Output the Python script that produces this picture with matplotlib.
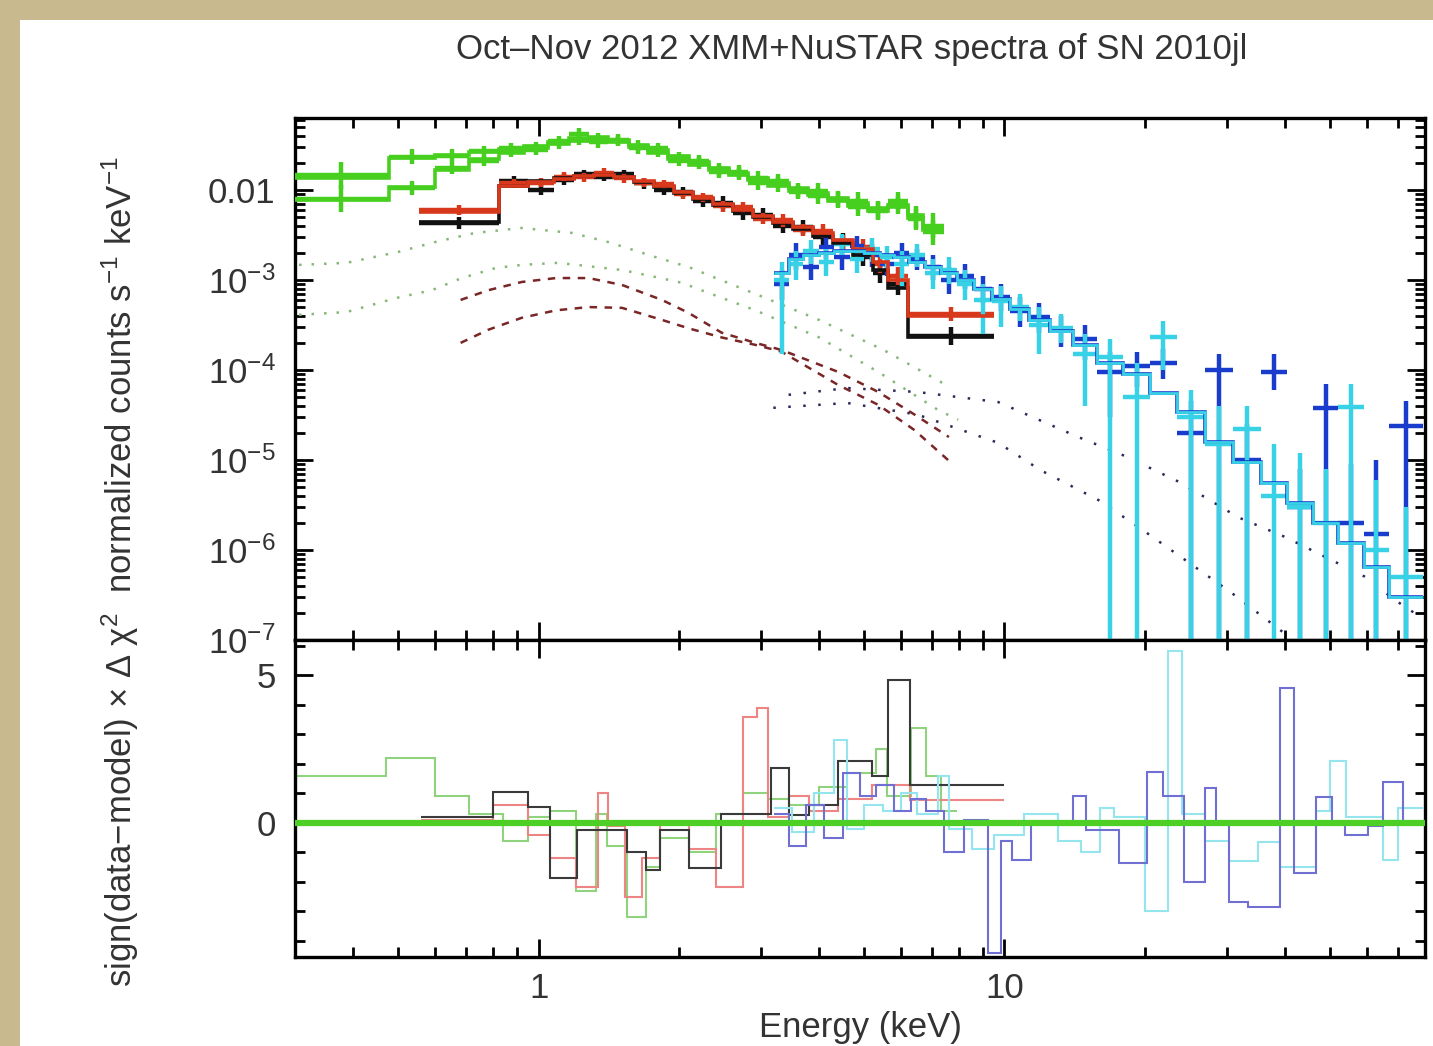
import numpy as np
import matplotlib
matplotlib.use("Agg")
import matplotlib.pyplot as plt
from matplotlib.patches import Rectangle
from matplotlib.ticker import FixedLocator, FixedFormatter, LogLocator, MultipleLocator, NullFormatter

plt.rcParams['font.family'] = ['Liberation Sans', 'DejaVu Sans']
plt.rcParams['mathtext.fontset'] = 'custom'
plt.rcParams['mathtext.rm'] = 'Liberation Sans'
plt.rcParams['mathtext.it'] = 'Liberation Sans:italic'
plt.rcParams['mathtext.default'] = 'regular'

# ---- XMM MOS (green), two spectra
mos_edges = [0.298, 0.477, 0.60, 0.708, 0.821, 0.93, 1.05, 1.16, 1.28, 1.41, 1.56, 1.72, 1.90,
             2.10, 2.32, 2.56, 2.82, 3.11, 3.44, 3.79, 4.19, 4.62, 5.10, 5.63, 6.22, 6.70, 7.40]
mos1_model = [0.0136, 0.0227, 0.0245, 0.0264, 0.0285, 0.0308, 0.0341, 0.0378, 0.0388, 0.0359,
              0.0316, 0.0278, 0.0239, 0.0205, 0.0176, 0.0155, 0.0136, 0.0120, 0.0105, 0.0093,
              0.0081, 0.0072, 0.0063, 0.0068, 0.0053, 0.0038]
mos1_data = [0.0145, 0.0235, 0.024, 0.027, 0.029, 0.030, 0.035, 0.042, 0.037, 0.036,
             0.031, 0.029, 0.023, 0.021, 0.017, 0.016, 0.0135, 0.0125, 0.0100, 0.0098,
             0.0080, 0.0075, 0.0060, 0.0075, 0.0050, 0.0040]
mos1_err = [0.15, 0.08, 0.07, 0.06, 0.06, 0.06, 0.06, 0.06, 0.06, 0.06, 0.06, 0.06, 0.06,
            0.07, 0.07, 0.07, 0.08, 0.08, 0.08, 0.09, 0.09, 0.10, 0.10, 0.10, 0.12, 0.14]
mos2_model = [0.0077, 0.0108, 0.0167, 0.022, 0.026, 0.029, 0.032, 0.035, 0.036, 0.034,
              0.030, 0.026, 0.022, 0.019, 0.0165, 0.0145, 0.0128, 0.0112, 0.0098, 0.0087,
              0.0076, 0.0067, 0.0059, 0.0064, 0.0049, 0.0036]
mos2_data = [0.0080, 0.0105, 0.0175, 0.021, 0.027, 0.028, 0.033, 0.036, 0.034, 0.035,
             0.029, 0.027, 0.021, 0.020, 0.016, 0.015, 0.012, 0.0115, 0.0095, 0.0085,
             0.0078, 0.0065, 0.0058, 0.0068, 0.0047, 0.0034]
mos2_err = mos1_err

# ---- XMM pn (red) and second pn spectrum (black)
pn_edges = [0.553, 0.821, 0.951, 1.077, 1.189, 1.312, 1.448, 1.599, 1.765, 1.948, 2.15, 2.37,
            2.62, 2.89, 3.19, 3.52, 3.88, 4.29, 4.73, 5.23, 5.61, 6.22, 9.48]
red_model = [0.0057, 0.0111, 0.0123, 0.0133, 0.0143, 0.0147, 0.0139, 0.0126, 0.0111, 0.0095,
             0.0081, 0.0070, 0.0060, 0.0051, 0.0044, 0.0039, 0.0033, 0.0028, 0.0022, 0.0016,
             0.0010, 0.00040]
red_data = [0.0060, 0.0118, 0.0120, 0.0140, 0.0138, 0.0155, 0.0135, 0.0120, 0.0115, 0.0090,
            0.0083, 0.0066, 0.0064, 0.0048, 0.0046, 0.0036, 0.0035, 0.0026, 0.0023, 0.0015,
            0.0011, 0.00042]
red_err = [0.06, 0.05, 0.05, 0.05, 0.05, 0.05, 0.05, 0.05, 0.05, 0.05, 0.05, 0.06, 0.06, 0.06,
           0.07, 0.07, 0.08, 0.08, 0.09, 0.10, 0.10, 0.08]
black_model = [0.0044, 0.0110, 0.0125, 0.0135, 0.0142, 0.0146, 0.0140, 0.0124, 0.0108, 0.0092,
               0.0079, 0.0068, 0.0058, 0.0050, 0.0043, 0.0037, 0.0031, 0.0026, 0.0019, 0.0013,
               0.00082, 0.00023]
black_data = [0.0043, 0.0125, 0.0100, 0.0130, 0.0150, 0.0140, 0.0150, 0.0118, 0.0100, 0.0095,
              0.0075, 0.0072, 0.0055, 0.0053, 0.0040, 0.0039, 0.0030, 0.0027, 0.0018, 0.0012,
              0.00090, 0.00024]
black_err = [0.07, 0.06, 0.06, 0.06, 0.05, 0.05, 0.05, 0.06, 0.06, 0.06, 0.06, 0.07, 0.07, 0.07,
             0.08, 0.08, 0.09, 0.09, 0.10, 0.11, 0.12, 0.10]

# ---- NuSTAR FPMA (blue) / FPMB (cyan)
nu_edges = [3.2, 3.45, 3.7, 4.0, 4.3, 4.65, 5.0, 5.4, 5.8, 6.25, 6.75, 7.3, 7.9, 8.6, 9.4, 10.3,
            11.3, 12.5, 14.0, 15.8, 18.0, 20.5, 23.5, 27.0, 31.0, 35.5, 40.5, 46.0, 52.0, 59.0,
            67.0, 79.0]
nu_model = [1.2e-3, 1.7e-3, 1.9e-3, 2.0e-3, 2.1e-3, 2.1e-3, 2.0e-3, 1.9e-3, 1.8e-3, 1.6e-3,
            1.4e-3, 1.2e-3, 1.0e-3, 8.0e-4, 6.2e-4, 4.8e-4, 3.6e-4, 2.7e-4, 1.9e-4, 1.2e-4,
            9.0e-5, 5.5e-5, 3.4e-5, 1.6e-5, 9.5e-6, 5.5e-6, 3.3e-6, 2.0e-6, 1.2e-6, 6.5e-7, 3.0e-7]
blue_data = [9.0e-4, 1.9e-3, 1.4e-3, 2.3e-3, 1.8e-3, 2.4e-3, 1.9e-3, 1.5e-3, 2.0e-3, 1.7e-3,
             1.4e-3, 1.0e-3, 1.1e-3, 8.0e-4, 6.5e-4, 4.5e-4, 3.9e-4, 2.8e-4, 2.2e-4, 9.5e-5,
             1.1e-4, 1.2e-4, 2.0e-5, 1.0e-4, 1.0e-5, 9.5e-5, 3.0e-6, 3.8e-5, 2.0e-6, 1.5e-6, 2.4e-5]
blue_lo = [6.0e-4, 1.3e-3, 1.0e-3, 1.7e-3, 1.3e-3, 1.8e-3, 1.4e-3, 1.1e-3, 1.5e-3, 1.3e-3,
           1.0e-3, 7.0e-4, 8.0e-4, 5.5e-4, 4.5e-4, 3.0e-4, 2.6e-4, 1.8e-4, 1.3e-4, 3.0e-5,
           6.5e-5, 8.0e-5, 1e-8, 1e-8, 1e-8, 6.0e-5, 1e-8, 1e-8, 1e-8, 1e-8, 1e-8]
blue_hi = [1.3e-3, 2.6e-3, 2.0e-3, 3.0e-3, 2.4e-3, 3.1e-3, 2.5e-3, 2.0e-3, 2.6e-3, 2.2e-3,
           1.9e-3, 1.4e-3, 1.5e-3, 1.1e-3, 9.0e-4, 6.5e-4, 5.5e-4, 4.0e-4, 3.2e-4, 1.6e-4,
           1.6e-4, 1.7e-4, 4.5e-5, 1.5e-4, 2.5e-5, 1.5e-4, 8.0e-6, 7.0e-5, 9.0e-6, 1.0e-5, 4.5e-5]
cyan_data = [1.0e-3, 1.5e-3, 2.1e-3, 1.6e-3, 2.5e-3, 1.7e-3, 2.2e-3, 1.8e-3, 1.5e-3, 1.9e-3,
             1.2e-3, 1.3e-3, 9.0e-4, 6.0e-4, 5.8e-4, 5.0e-4, 3.2e-4, 2.9e-4, 1.5e-4, 1.4e-4,
             5.0e-5, 2.3e-4, 3.0e-5, 1.5e-5, 2.2e-5, 4.0e-6, 3.0e-6, 2.0e-6, 3.9e-5, 1.0e-6, 5.0e-7]
cyan_lo = [1.5e-4, 1.0e-3, 1.5e-3, 1.1e-3, 1.9e-3, 1.2e-3, 1.6e-3, 1.3e-3, 8.0e-4, 1.4e-3,
           8.0e-4, 9.0e-4, 6.0e-4, 2.5e-4, 3.0e-4, 3.5e-4, 1.5e-4, 2.0e-4, 4.0e-5, 1e-8,
           1e-8, 1.0e-4, 1e-8, 1e-8, 1e-8, 1e-8, 1e-8, 1e-8, 1e-8, 1e-8, 1e-8]
cyan_hi = [1.6e-3, 2.1e-3, 2.8e-3, 2.2e-3, 3.2e-3, 2.3e-3, 2.9e-3, 2.4e-3, 2.1e-3, 2.5e-3,
           1.7e-3, 1.8e-3, 1.3e-3, 9.0e-4, 8.5e-4, 7.0e-4, 5.0e-4, 4.2e-4, 2.5e-4, 2.2e-4,
           1.2e-4, 3.5e-4, 6.0e-5, 4.0e-5, 4.0e-5, 1.5e-5, 1.2e-5, 8.0e-6, 7.0e-5, 6.0e-6, 3.0e-6]

# ---- model components
gd1_e = [0.306, 0.387, 0.50, 0.60, 0.73, 0.92, 1.18, 1.41, 1.78, 2.10, 2.96, 4.0, 5.5, 7.5]
gd1_f = [1.47e-3, 1.55e-3, 2.05e-3, 2.64e-3, 3.33e-3, 3.78e-3, 3.33e-3, 2.64e-3, 1.80e-3,
         1.39e-3, 6.8e-4, 3.6e-4, 1.67e-4, 6.8e-5]
gd2_e = [0.306, 0.387, 0.494, 0.59, 0.684, 0.81, 0.92, 1.10, 1.33, 1.51, 1.78, 2.03, 2.28,
         2.92, 4.0, 5.36, 7.2, 7.96]
gd2_f = [4.1e-4, 4.4e-4, 6.3e-4, 7.7e-4, 1.05e-3, 1.36e-3, 1.47e-3, 1.55e-3, 1.39e-3, 1.29e-3,
         1.08e-3, 9.3e-4, 7.4e-4, 4.6e-4, 2.3e-4, 9.5e-5, 3.6e-5, 2.8e-5]
rd1_e = [0.68, 0.78, 0.92, 1.09, 1.28, 1.51, 1.84, 2.10, 2.47, 2.92, 3.32, 4.40, 5.36, 6.41, 7.60]
rd1_f = [6.0e-4, 7.7e-4, 9.5e-4, 1.05e-3, 1.05e-3, 8.8e-4, 6.0e-4, 4.3e-4, 2.6e-4, 2.0e-4,
         1.67e-4, 9.5e-5, 5.7e-5, 3.2e-5, 1.8e-5]
rd2_e = [0.68, 0.78, 0.92, 1.09, 1.28, 1.51, 1.84, 2.10, 2.47, 2.92, 3.32, 4.40, 5.36, 6.41, 7.78]
rd2_f = [2.0e-4, 2.8e-4, 3.8e-4, 4.6e-4, 5.0e-4, 4.9e-4, 3.6e-4, 2.9e-4, 2.3e-4, 1.9e-4,
         1.6e-4, 6.8e-5, 4.1e-5, 2.15e-5, 8.8e-6]
bd1_e = [3.44, 4.6, 6.5, 9.7, 14.4, 18.2, 23.9, 31.8, 40.0, 46.5, 59.2, 68.8, 77.0]
bd1_f = [5.3e-5, 6.3e-5, 5.7e-5, 4.4e-5, 1.8e-5, 1.1e-5, 5.6e-6, 2.3e-6, 1.4e-6, 9.5e-7,
         5.1e-7, 2.8e-7, 1.9e-7]
bd2_e = [3.19, 4.6, 6.5, 9.7, 11.96, 15.9, 19.4, 23.9, 30.6, 40.7]
bd2_f = [3.8e-5, 4.3e-5, 3.2e-5, 1.55e-5, 7.7e-6, 3.6e-6, 1.8e-6, 8.4e-7, 3.4e-7, 1.1e-7]

# ---- residuals (sign(data-model) x delta chi^2)
res_green_e = [0.30, 0.47, 0.60, 0.71, 0.84, 0.95, 1.06, 1.20, 1.33, 1.40, 1.55, 1.70, 1.82,
               2.10, 2.40, 2.75, 3.10, 3.45, 4.00, 4.60, 5.30, 5.60, 6.30, 6.80, 7.30, 7.90]
res_green = [1.6, 2.2, 0.9, 0.3, -0.6, 0.2, 0.4, -2.3, 0.3, -0.8, -3.2, -1.5, -0.5, -1.0, 0.3,
             1.0, 0.8, 0.6, 1.2, 1.7, 2.5, 0.9, 3.2, 1.6, 0.4]
res_black_e = [0.56, 0.80, 0.95, 1.06, 1.21, 1.55, 1.70, 1.82, 2.10, 2.46, 3.15, 3.44, 3.80,
               4.40, 5.20, 5.61, 6.28, 10.0]
res_black = [0.2, 1.05, 0.55, -1.86, -0.24, -0.98, -1.59, -0.24, -1.52, 0.3, 1.86, 0.27, 0.6,
             2.1, 1.6, 4.86, 1.28]
res_red_e = [0.56, 0.80, 0.95, 1.06, 1.20, 1.34, 1.41, 1.53, 1.67, 1.82, 2.10, 2.40, 2.75,
             2.95, 3.10, 3.44, 3.80, 4.40, 5.20, 6.28, 10.0]
res_red = [0.1, 0.6, -0.4, -1.2, -2.16, 1.0, -0.1, -2.5, -1.2, 0.0, -0.9, -2.16, 3.6, 3.9,
           0.2, 0.9, 0.4, 0.8, 1.3, 0.78]
res_blue_e = [3.2, 3.45, 3.75, 4.1, 4.5, 4.9, 5.3, 5.8, 6.3, 6.8, 7.4, 8.2, 9.2, 9.85, 10.4,
              11.4, 14.0, 15.0, 17.6, 20.2, 21.9, 24.3, 27.0, 28.5, 30.4, 33.4, 39.1, 41.9,
              46.7, 50.4, 53.9, 60.4, 65.1, 71.8, 79.0]
res_blue = [0.3, -0.8, 0.6, -0.5, 1.7, 0.9, 1.3, 0.4, 0.8, 0.4, -1.0, 0.1, -4.4, -0.6, -1.25,
            0.0, 0.9, -0.24, -1.35, 1.72, 0.9, -2.0, 1.18, 0.0, -2.7, -2.87, 4.56, -1.69, 0.88,
            0.0, -0.4, -0.1, 1.38, 0.0]
res_cyan_e = [3.2, 3.5, 3.9, 4.3, 4.6, 5.0, 5.5, 6.0, 6.5, 7.2, 7.6, 8.5, 9.5, 11.0, 13.0,
              14.6, 16.0, 17.2, 20.0, 22.4, 24.1, 27.0, 30.4, 35.1, 39.1, 46.7, 50.1, 54.2,
              65.1, 70.1, 79.0]
res_cyan = [0.5, -0.3, 1.0, 2.8, -0.2, 0.6, 0.4, 1.0, 0.3, 1.6, -0.2, -0.9, -0.4, 0.3, -0.6,
            -1.0, 0.5, 0.2, -3.0, 5.84, 0.3, -0.6, -1.3, -0.64, -1.5, 0.4, 2.1, 0.2, -1.25, 0.5]

flux_ticks = [1e-2, 1e-3, 1e-4, 1e-5, 1e-6, 1e-7]
flux_labels = ['0.01', '$10^{-3}$', '$10^{-4}$', '$10^{-5}$', '$10^{-6}$', '$10^{-7}$']

GREEN, RED, BLACK, BLUE, CYAN = '#46cf1e', '#d8381c', '#111111', '#1a3ccc', '#38d2e6'


def crosses(ax, edges, vals, lo, hi, color, lw=3.2):
    e = np.asarray(edges)
    v = np.asarray(vals)
    x = np.sqrt(e[:-1] * e[1:])
    ax.errorbar(x, v, xerr=[x - e[:-1], e[1:] - x],
                yerr=[v - np.asarray(lo), np.asarray(hi) - v],
                fmt='none', ecolor=color, elinewidth=lw, capsize=0, zorder=3)


def dex_bounds(vals, err):
    v = np.asarray(vals)
    d = 10.0 ** np.asarray(err)
    return v / d, v * d


fig = plt.figure(figsize=(14.33, 10.46), dpi=100, facecolor='#c9b98f')
fig.add_artist(Rectangle((20 / 1433, 0), 1, 1 - 20 / 1046, transform=fig.transFigure,
                         facecolor='white', edgecolor='none', zorder=-5))

ax1 = fig.add_axes([0.2059, 0.3881, 0.7886, 0.4991])
ax2 = fig.add_axes([0.2059, 0.0851, 0.7886, 0.3030], sharex=ax1)

# components
ax1.plot(gd1_e, gd1_f, ls=(0, (1, 4)), color='#86b878', lw=1.8)
ax1.plot(gd2_e, gd2_f, ls=(0, (1, 4)), color='#86b878', lw=1.8)
ax1.plot(rd1_e, rd1_f, ls=(0, (3, 3)), color='#7a2626', lw=1.8)
ax1.plot(rd2_e, rd2_f, ls=(0, (3, 3)), color='#7a2626', lw=1.8)
ax1.plot(bd1_e, bd1_f, ls=(0, (1, 5)), color='#2a2a5a', lw=1.8)
ax1.plot(bd2_e, bd2_f, ls=(0, (1, 5)), color='#2a2a5a', lw=1.8)

# data + folded models
lo, hi = dex_bounds(mos2_data, mos2_err)
crosses(ax1, mos_edges, mos2_data, lo, hi, GREEN)
lo, hi = dex_bounds(mos1_data, mos1_err)
crosses(ax1, mos_edges, mos1_data, lo, hi, GREEN)
ax1.stairs(mos2_model, mos_edges, baseline=None, color=GREEN, lw=2.6, zorder=4)
ax1.stairs(mos1_model, mos_edges, baseline=None, color=GREEN, lw=2.6, zorder=4)

lo, hi = dex_bounds(black_data, black_err)
crosses(ax1, pn_edges, black_data, lo, hi, BLACK)
lo, hi = dex_bounds(red_data, red_err)
crosses(ax1, pn_edges, red_data, lo, hi, RED)
ax1.stairs(black_model, pn_edges, baseline=None, color=BLACK, lw=2.6, zorder=4)
ax1.stairs(red_model, pn_edges, baseline=None, color=RED, lw=2.6, zorder=4)

crosses(ax1, nu_edges, blue_data, blue_lo, blue_hi, BLUE)
crosses(ax1, nu_edges, cyan_data, cyan_lo, cyan_hi, CYAN)
ax1.stairs(nu_model, nu_edges, baseline=None, color=BLUE, lw=2.6, zorder=4)
ax1.stairs(nu_model, nu_edges, baseline=None, color=CYAN, lw=2.0, zorder=4)

ax1.set_xscale('log')
ax1.set_yscale('log')
ax1.set_xlim(0.3, 80)
ax1.set_ylim(1e-7, 0.063)
ax1.yaxis.set_major_locator(FixedLocator(flux_ticks))
ax1.yaxis.set_major_formatter(FixedFormatter(flux_labels))
ax1.yaxis.set_minor_locator(LogLocator(base=10, subs=np.arange(2, 10)))
ax1.yaxis.set_minor_formatter(NullFormatter())
ax1.tick_params(axis='x', which='both', labelbottom=False)

# residuals
ax2.stairs(res_green, res_green_e, baseline=None, color='#8fd47c', lw=1.5)
ax2.stairs(res_red, res_red_e, baseline=None, color='#ee8585', lw=1.5)
ax2.stairs(res_black, res_black_e, baseline=None, color='#3a3a3a', lw=1.5)
ax2.stairs(res_cyan, res_cyan_e, baseline=None, color='#95e5ef', lw=1.5)
ax2.stairs(res_blue, res_blue_e, baseline=None, color='#7070d2', lw=1.5)
ax2.axhline(0, color='#4dcf26', lw=4.5, zorder=5)
ax2.set_ylim(-4.55, 6.2)
ax2.yaxis.set_major_locator(MultipleLocator(5))
ax2.yaxis.set_minor_locator(MultipleLocator(1))
ax2.xaxis.set_major_locator(FixedLocator([1, 10]))
ax2.xaxis.set_major_formatter(FixedFormatter(['1', '10']))
ax2.xaxis.set_minor_locator(LogLocator(base=10, subs=np.arange(2, 10)))
ax2.xaxis.set_minor_formatter(NullFormatter())

for ax in (ax1, ax2):
    for s in ax.spines.values():
        s.set_linewidth(2.4)
    ax.tick_params(which='both', direction='in', top=True, right=True, width=2.0,
                   labelsize=25, labelcolor='#333333')
    ax.tick_params(which='major', length=13)
    ax.tick_params(which='minor', length=7)
ax1.tick_params(axis='y', pad=14)
ax2.tick_params(axis='y', pad=14)
ax2.tick_params(axis='x', pad=11)

ax2.set_xlabel('Energy (keV)', fontsize=25, color='#333333', labelpad=4)
fig.text(852 / 1433, 1 - 50 / 1046, 'Oct\u2013Nov 2012 XMM+NuSTAR spectra of SN 2010jl',
         ha='center', va='center', fontsize=25, color='#333333')
fig.text(120 / 1433, 1 - 572 / 1046,
         r'sign(data$-$model) $\times$ $\Delta$ $\chi^2$  normalized counts s$^{-1}$ keV$^{-1}$',
         rotation=90, ha='center', va='center', fontsize=25, color='#333333')

fig.savefig('out.png', dpi=100, facecolor=fig.get_facecolor())
